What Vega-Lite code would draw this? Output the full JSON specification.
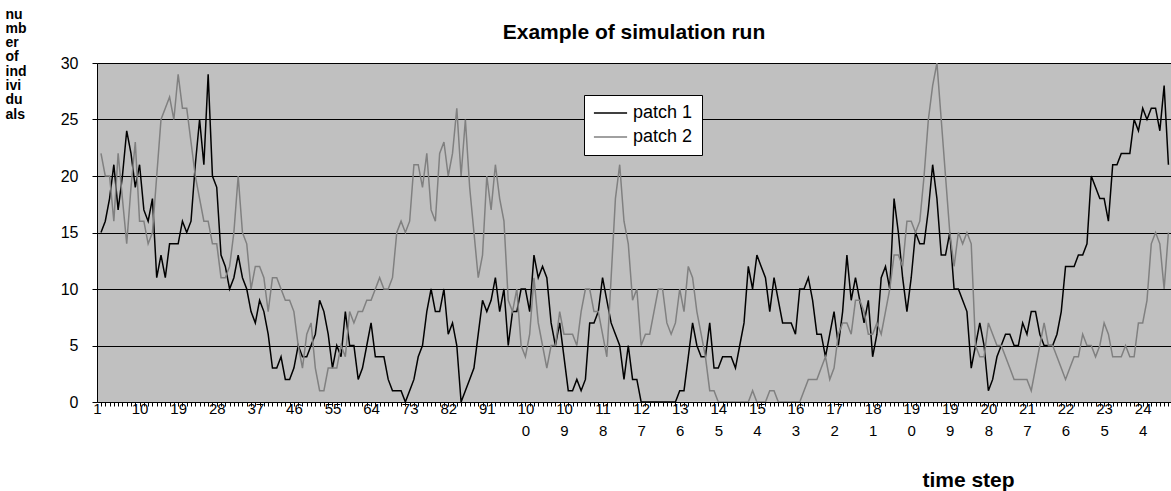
{
"$schema": "https://vega.github.io/schema/vega-lite/v6.json",
"width": 1074,
"height": 339,
"autosize": {"type": "none"},
"padding": {"left": 97, "top": 63, "right": 0, "bottom": 89},
"background": "white",
"title": {"text": "Example of simulation run", "fontSize": 21, "fontWeight": "bold", "font": "Liberation Sans", "anchor": "middle", "frame": "group", "offset": -36, "color": "black"},
"data": {"values": [
{"t":1,"patch 1":15,"patch 2":22},{"t":2,"patch 1":16,"patch 2":20},{"t":3,"patch 1":18,"patch 2":20},{"t":4,"patch 1":21,"patch 2":16},{"t":5,"patch 1":17,"patch 2":22},{"t":6,"patch 1":20,"patch 2":18},{"t":7,"patch 1":24,"patch 2":14},{"t":8,"patch 1":22,"patch 2":19},{"t":9,"patch 1":19,"patch 2":23},{"t":10,"patch 1":21,"patch 2":16},
{"t":11,"patch 1":17,"patch 2":16},{"t":12,"patch 1":16,"patch 2":14},{"t":13,"patch 1":18,"patch 2":15},{"t":14,"patch 1":11,"patch 2":20},{"t":15,"patch 1":13,"patch 2":25},{"t":16,"patch 1":11,"patch 2":26},{"t":17,"patch 1":14,"patch 2":27},{"t":18,"patch 1":14,"patch 2":25},{"t":19,"patch 1":14,"patch 2":29},{"t":20,"patch 1":16,"patch 2":26},
{"t":21,"patch 1":15,"patch 2":26},{"t":22,"patch 1":16,"patch 2":23},{"t":23,"patch 1":21,"patch 2":20},{"t":24,"patch 1":25,"patch 2":18},{"t":25,"patch 1":21,"patch 2":16},{"t":26,"patch 1":29,"patch 2":16},{"t":27,"patch 1":20,"patch 2":14},{"t":28,"patch 1":19,"patch 2":14},{"t":29,"patch 1":13,"patch 2":11},{"t":30,"patch 1":12,"patch 2":11},
{"t":31,"patch 1":10,"patch 2":12},{"t":32,"patch 1":11,"patch 2":15},{"t":33,"patch 1":13,"patch 2":20},{"t":34,"patch 1":11,"patch 2":15},{"t":35,"patch 1":10,"patch 2":14},{"t":36,"patch 1":8,"patch 2":10},{"t":37,"patch 1":7,"patch 2":12},{"t":38,"patch 1":9,"patch 2":12},{"t":39,"patch 1":8,"patch 2":11},{"t":40,"patch 1":6,"patch 2":8},
{"t":41,"patch 1":3,"patch 2":11},{"t":42,"patch 1":3,"patch 2":11},{"t":43,"patch 1":4,"patch 2":10},{"t":44,"patch 1":2,"patch 2":9},{"t":45,"patch 1":2,"patch 2":9},{"t":46,"patch 1":3,"patch 2":8},{"t":47,"patch 1":5,"patch 2":5},{"t":48,"patch 1":4,"patch 2":3},{"t":49,"patch 1":4,"patch 2":6},{"t":50,"patch 1":5,"patch 2":7},
{"t":51,"patch 1":6,"patch 2":3},{"t":52,"patch 1":9,"patch 2":1},{"t":53,"patch 1":8,"patch 2":1},{"t":54,"patch 1":6,"patch 2":3},{"t":55,"patch 1":3,"patch 2":3},{"t":56,"patch 1":5,"patch 2":3},{"t":57,"patch 1":4,"patch 2":5},{"t":58,"patch 1":8,"patch 2":4},{"t":59,"patch 1":5,"patch 2":8},{"t":60,"patch 1":5,"patch 2":7},
{"t":61,"patch 1":2,"patch 2":8},{"t":62,"patch 1":3,"patch 2":8},{"t":63,"patch 1":5,"patch 2":9},{"t":64,"patch 1":7,"patch 2":9},{"t":65,"patch 1":4,"patch 2":10},{"t":66,"patch 1":4,"patch 2":11},{"t":67,"patch 1":4,"patch 2":10},{"t":68,"patch 1":2,"patch 2":10},{"t":69,"patch 1":1,"patch 2":11},{"t":70,"patch 1":1,"patch 2":15},
{"t":71,"patch 1":1,"patch 2":16},{"t":72,"patch 1":0,"patch 2":15},{"t":73,"patch 1":1,"patch 2":16},{"t":74,"patch 1":2,"patch 2":21},{"t":75,"patch 1":4,"patch 2":21},{"t":76,"patch 1":5,"patch 2":19},{"t":77,"patch 1":8,"patch 2":22},{"t":78,"patch 1":10,"patch 2":17},{"t":79,"patch 1":8,"patch 2":16},{"t":80,"patch 1":8,"patch 2":22},
{"t":81,"patch 1":10,"patch 2":23},{"t":82,"patch 1":6,"patch 2":20},{"t":83,"patch 1":7,"patch 2":22},{"t":84,"patch 1":5,"patch 2":26},{"t":85,"patch 1":0,"patch 2":20},{"t":86,"patch 1":1,"patch 2":25},{"t":87,"patch 1":2,"patch 2":19},{"t":88,"patch 1":3,"patch 2":15},{"t":89,"patch 1":6,"patch 2":11},{"t":90,"patch 1":9,"patch 2":13},
{"t":91,"patch 1":8,"patch 2":20},{"t":92,"patch 1":9,"patch 2":17},{"t":93,"patch 1":11,"patch 2":21},{"t":94,"patch 1":8,"patch 2":18},{"t":95,"patch 1":10,"patch 2":16},{"t":96,"patch 1":5,"patch 2":9},{"t":97,"patch 1":8,"patch 2":8},{"t":98,"patch 1":8,"patch 2":10},{"t":99,"patch 1":10,"patch 2":5},{"t":100,"patch 1":10,"patch 2":4},
{"t":101,"patch 1":8,"patch 2":6},{"t":102,"patch 1":13,"patch 2":11},{"t":103,"patch 1":11,"patch 2":7},{"t":104,"patch 1":12,"patch 2":5},{"t":105,"patch 1":11,"patch 2":3},{"t":106,"patch 1":7,"patch 2":5},{"t":107,"patch 1":5,"patch 2":5},{"t":108,"patch 1":7,"patch 2":8},{"t":109,"patch 1":4,"patch 2":6},{"t":110,"patch 1":1,"patch 2":6},
{"t":111,"patch 1":1,"patch 2":6},{"t":112,"patch 1":2,"patch 2":5},{"t":113,"patch 1":1,"patch 2":8},{"t":114,"patch 1":2,"patch 2":10},{"t":115,"patch 1":7,"patch 2":10},{"t":116,"patch 1":7,"patch 2":8},{"t":117,"patch 1":8,"patch 2":8},{"t":118,"patch 1":11,"patch 2":6},{"t":119,"patch 1":9,"patch 2":4},{"t":120,"patch 1":7,"patch 2":11},
{"t":121,"patch 1":6,"patch 2":18},{"t":122,"patch 1":5,"patch 2":21},{"t":123,"patch 1":2,"patch 2":16},{"t":124,"patch 1":5,"patch 2":14},{"t":125,"patch 1":2,"patch 2":9},{"t":126,"patch 1":2,"patch 2":10},{"t":127,"patch 1":0,"patch 2":5},{"t":128,"patch 1":0,"patch 2":6},{"t":129,"patch 1":0,"patch 2":6},{"t":130,"patch 1":0,"patch 2":8},
{"t":131,"patch 1":0,"patch 2":10},{"t":132,"patch 1":0,"patch 2":10},{"t":133,"patch 1":0,"patch 2":7},{"t":134,"patch 1":0,"patch 2":6},{"t":135,"patch 1":0,"patch 2":7},{"t":136,"patch 1":1,"patch 2":10},{"t":137,"patch 1":1,"patch 2":8},{"t":138,"patch 1":4,"patch 2":12},{"t":139,"patch 1":7,"patch 2":11},{"t":140,"patch 1":5,"patch 2":8},
{"t":141,"patch 1":4,"patch 2":6},{"t":142,"patch 1":4,"patch 2":4},{"t":143,"patch 1":7,"patch 2":1},{"t":144,"patch 1":3,"patch 2":1},{"t":145,"patch 1":3,"patch 2":0},{"t":146,"patch 1":4,"patch 2":0},{"t":147,"patch 1":4,"patch 2":0},{"t":148,"patch 1":4,"patch 2":0},{"t":149,"patch 1":3,"patch 2":0},{"t":150,"patch 1":5,"patch 2":0},
{"t":151,"patch 1":7,"patch 2":0},{"t":152,"patch 1":12,"patch 2":0},{"t":153,"patch 1":10,"patch 2":1},{"t":154,"patch 1":13,"patch 2":0},{"t":155,"patch 1":12,"patch 2":0},{"t":156,"patch 1":11,"patch 2":0},{"t":157,"patch 1":8,"patch 2":1},{"t":158,"patch 1":11,"patch 2":1},{"t":159,"patch 1":9,"patch 2":0},{"t":160,"patch 1":7,"patch 2":0},
{"t":161,"patch 1":7,"patch 2":0},{"t":162,"patch 1":7,"patch 2":0},{"t":163,"patch 1":6,"patch 2":0},{"t":164,"patch 1":10,"patch 2":0},{"t":165,"patch 1":10,"patch 2":1},{"t":166,"patch 1":11,"patch 2":2},{"t":167,"patch 1":9,"patch 2":2},{"t":168,"patch 1":6,"patch 2":2},{"t":169,"patch 1":6,"patch 2":3},{"t":170,"patch 1":4,"patch 2":4},
{"t":171,"patch 1":6,"patch 2":2},{"t":172,"patch 1":8,"patch 2":3},{"t":173,"patch 1":5,"patch 2":6},{"t":174,"patch 1":8,"patch 2":7},{"t":175,"patch 1":13,"patch 2":7},{"t":176,"patch 1":9,"patch 2":6},{"t":177,"patch 1":11,"patch 2":9},{"t":178,"patch 1":9,"patch 2":9},{"t":179,"patch 1":7,"patch 2":8},{"t":180,"patch 1":9,"patch 2":6},
{"t":181,"patch 1":4,"patch 2":6},{"t":182,"patch 1":6,"patch 2":7},{"t":183,"patch 1":11,"patch 2":6},{"t":184,"patch 1":12,"patch 2":8},{"t":185,"patch 1":10,"patch 2":10},{"t":186,"patch 1":18,"patch 2":13},{"t":187,"patch 1":15,"patch 2":13},{"t":188,"patch 1":11,"patch 2":12},{"t":189,"patch 1":8,"patch 2":16},{"t":190,"patch 1":11,"patch 2":16},
{"t":191,"patch 1":15,"patch 2":15},{"t":192,"patch 1":14,"patch 2":16},{"t":193,"patch 1":14,"patch 2":20},{"t":194,"patch 1":17,"patch 2":25},{"t":195,"patch 1":21,"patch 2":28},{"t":196,"patch 1":18,"patch 2":30},{"t":197,"patch 1":13,"patch 2":25},{"t":198,"patch 1":13,"patch 2":20},{"t":199,"patch 1":15,"patch 2":15},{"t":200,"patch 1":10,"patch 2":12},
{"t":201,"patch 1":10,"patch 2":15},{"t":202,"patch 1":9,"patch 2":14},{"t":203,"patch 1":8,"patch 2":15},{"t":204,"patch 1":3,"patch 2":14},{"t":205,"patch 1":5,"patch 2":5},{"t":206,"patch 1":7,"patch 2":4},{"t":207,"patch 1":5,"patch 2":4},{"t":208,"patch 1":1,"patch 2":7},{"t":209,"patch 1":2,"patch 2":6},{"t":210,"patch 1":4,"patch 2":5},
{"t":211,"patch 1":5,"patch 2":5},{"t":212,"patch 1":6,"patch 2":4},{"t":213,"patch 1":6,"patch 2":3},{"t":214,"patch 1":5,"patch 2":2},{"t":215,"patch 1":5,"patch 2":2},{"t":216,"patch 1":7,"patch 2":2},{"t":217,"patch 1":6,"patch 2":2},{"t":218,"patch 1":8,"patch 2":1},{"t":219,"patch 1":8,"patch 2":3},{"t":220,"patch 1":6,"patch 2":5},
{"t":221,"patch 1":5,"patch 2":7},{"t":222,"patch 1":5,"patch 2":5},{"t":223,"patch 1":5,"patch 2":5},{"t":224,"patch 1":6,"patch 2":4},{"t":225,"patch 1":8,"patch 2":3},{"t":226,"patch 1":12,"patch 2":2},{"t":227,"patch 1":12,"patch 2":3},{"t":228,"patch 1":12,"patch 2":4},{"t":229,"patch 1":13,"patch 2":4},{"t":230,"patch 1":13,"patch 2":6},
{"t":231,"patch 1":14,"patch 2":5},{"t":232,"patch 1":20,"patch 2":5},{"t":233,"patch 1":19,"patch 2":4},{"t":234,"patch 1":18,"patch 2":5},{"t":235,"patch 1":18,"patch 2":7},{"t":236,"patch 1":16,"patch 2":6},{"t":237,"patch 1":21,"patch 2":4},{"t":238,"patch 1":21,"patch 2":4},{"t":239,"patch 1":22,"patch 2":4},{"t":240,"patch 1":22,"patch 2":5},
{"t":241,"patch 1":22,"patch 2":4},{"t":242,"patch 1":25,"patch 2":4},{"t":243,"patch 1":24,"patch 2":7},{"t":244,"patch 1":26,"patch 2":7},{"t":245,"patch 1":25,"patch 2":9},{"t":246,"patch 1":26,"patch 2":14},{"t":247,"patch 1":26,"patch 2":15},{"t":248,"patch 1":24,"patch 2":14},{"t":249,"patch 1":28,"patch 2":10},{"t":250,"patch 1":21,"patch 2":15}
]},
"transform": [{"fold": ["patch 1", "patch 2"], "as": ["series", "n"]}],
"mark": {"type": "line", "strokeWidth": 1.5, "clip": true},
"encoding": {
  "x": {"field": "t", "type": "quantitative",
    "scale": {"domain": [0.07, 250.6], "nice": false, "zero": false},
    "axis": {"title": "time step", "titleFontSize": 21, "titleFontWeight": "bold", "titleColor": "black", "titleX": 871, "titleY": 78, "titleAlign": "center", "titleBaseline": "middle",
      "values": [1,2,3,4,5,6,7,8,9,10,11,12,13,14,15,16,17,18,19,20,21,22,23,24,25,26,27,28,29,30,31,32,33,34,35,36,37,38,39,40,41,42,43,44,45,46,47,48,49,50,51,52,53,54,55,56,57,58,59,60,61,62,63,64,65,66,67,68,69,70,71,72,73,74,75,76,77,78,79,80,81,82,83,84,85,86,87,88,89,90,91,92,93,94,95,96,97,98,99,100,101,102,103,104,105,106,107,108,109,110,111,112,113,114,115,116,117,118,119,120,121,122,123,124,125,126,127,128,129,130,131,132,133,134,135,136,137,138,139,140,141,142,143,144,145,146,147,148,149,150,151,152,153,154,155,156,157,158,159,160,161,162,163,164,165,166,167,168,169,170,171,172,173,174,175,176,177,178,179,180,181,182,183,184,185,186,187,188,189,190,191,192,193,194,195,196,197,198,199,200,201,202,203,204,205,206,207,208,209,210,211,212,213,214,215,216,217,218,219,220,221,222,223,224,225,226,227,228,229,230,231,232,233,234,235,236,237,238,239,240,241,242,243,244,245,246,247,248,249,250],
      "grid": false, "domainColor": "black", "domainWidth": 1, "tickColor": "black", "tickSize": 4, "tickWidth": 1,
      "labelExpr": "(datum.value - 1) % 9 == 0 ? (datum.value >= 100 ? [substring(datum.label, 0, 2), substring(datum.label, 2)] : datum.label) : ''",
      "labelAlign": {"condition": {"test": "datum.value == 1", "value": "right"}, "value": "center"},
      "labelFontSize": 15, "labelColor": "black", "labelPadding": -5, "labelOverlap": false, "labelFlush": false, "labelBound": false, "labelLineHeight": 22, "labelBaseline": "top", "labelAngle": 0}},
  "y": {"field": "n", "type": "quantitative",
    "scale": {"domain": [0, 30], "nice": false},
    "axis": {"title": ["nu","mb","er","of","ind","ivi","du","als"], "titleAngle": 0, "titleAlign": "left", "titleBaseline": "top", "titleX": -92, "titleY": -56, "titleFontSize": 14, "titleFontWeight": "bold", "titleLineHeight": 14.3, "titleColor": "black",
      "values": [0,5,10,15,20,25,30], "grid": true, "gridColor": "black", "gridWidth": 1, "gridOpacity": 1, "domainColor": "black", "tickColor": "black", "tickSize": 5, "labelFontSize": 16, "labelColor": "black", "labelPadding": 14}},
  "color": {"field": "series", "type": "nominal",
    "scale": {"domain": ["patch 1", "patch 2"], "range": ["#000000", "#808080"]},
    "legend": {"title": null, "orient": "none", "legendX": 487, "legendY": 32, "fillColor": "white", "strokeColor": "black", "padding": 9, "symbolType": "stroke", "symbolSize": 1100, "symbolStrokeWidth": 1.5, "clipHeight": 18, "labelFontSize": 18, "labelColor": "black", "labelOffset": 5, "rowPadding": 6, "cornerRadius": 0}}
},
"config": {"view": {"fill": "#C0C0C0", "stroke": null}, "font": "Liberation Sans"}
}
